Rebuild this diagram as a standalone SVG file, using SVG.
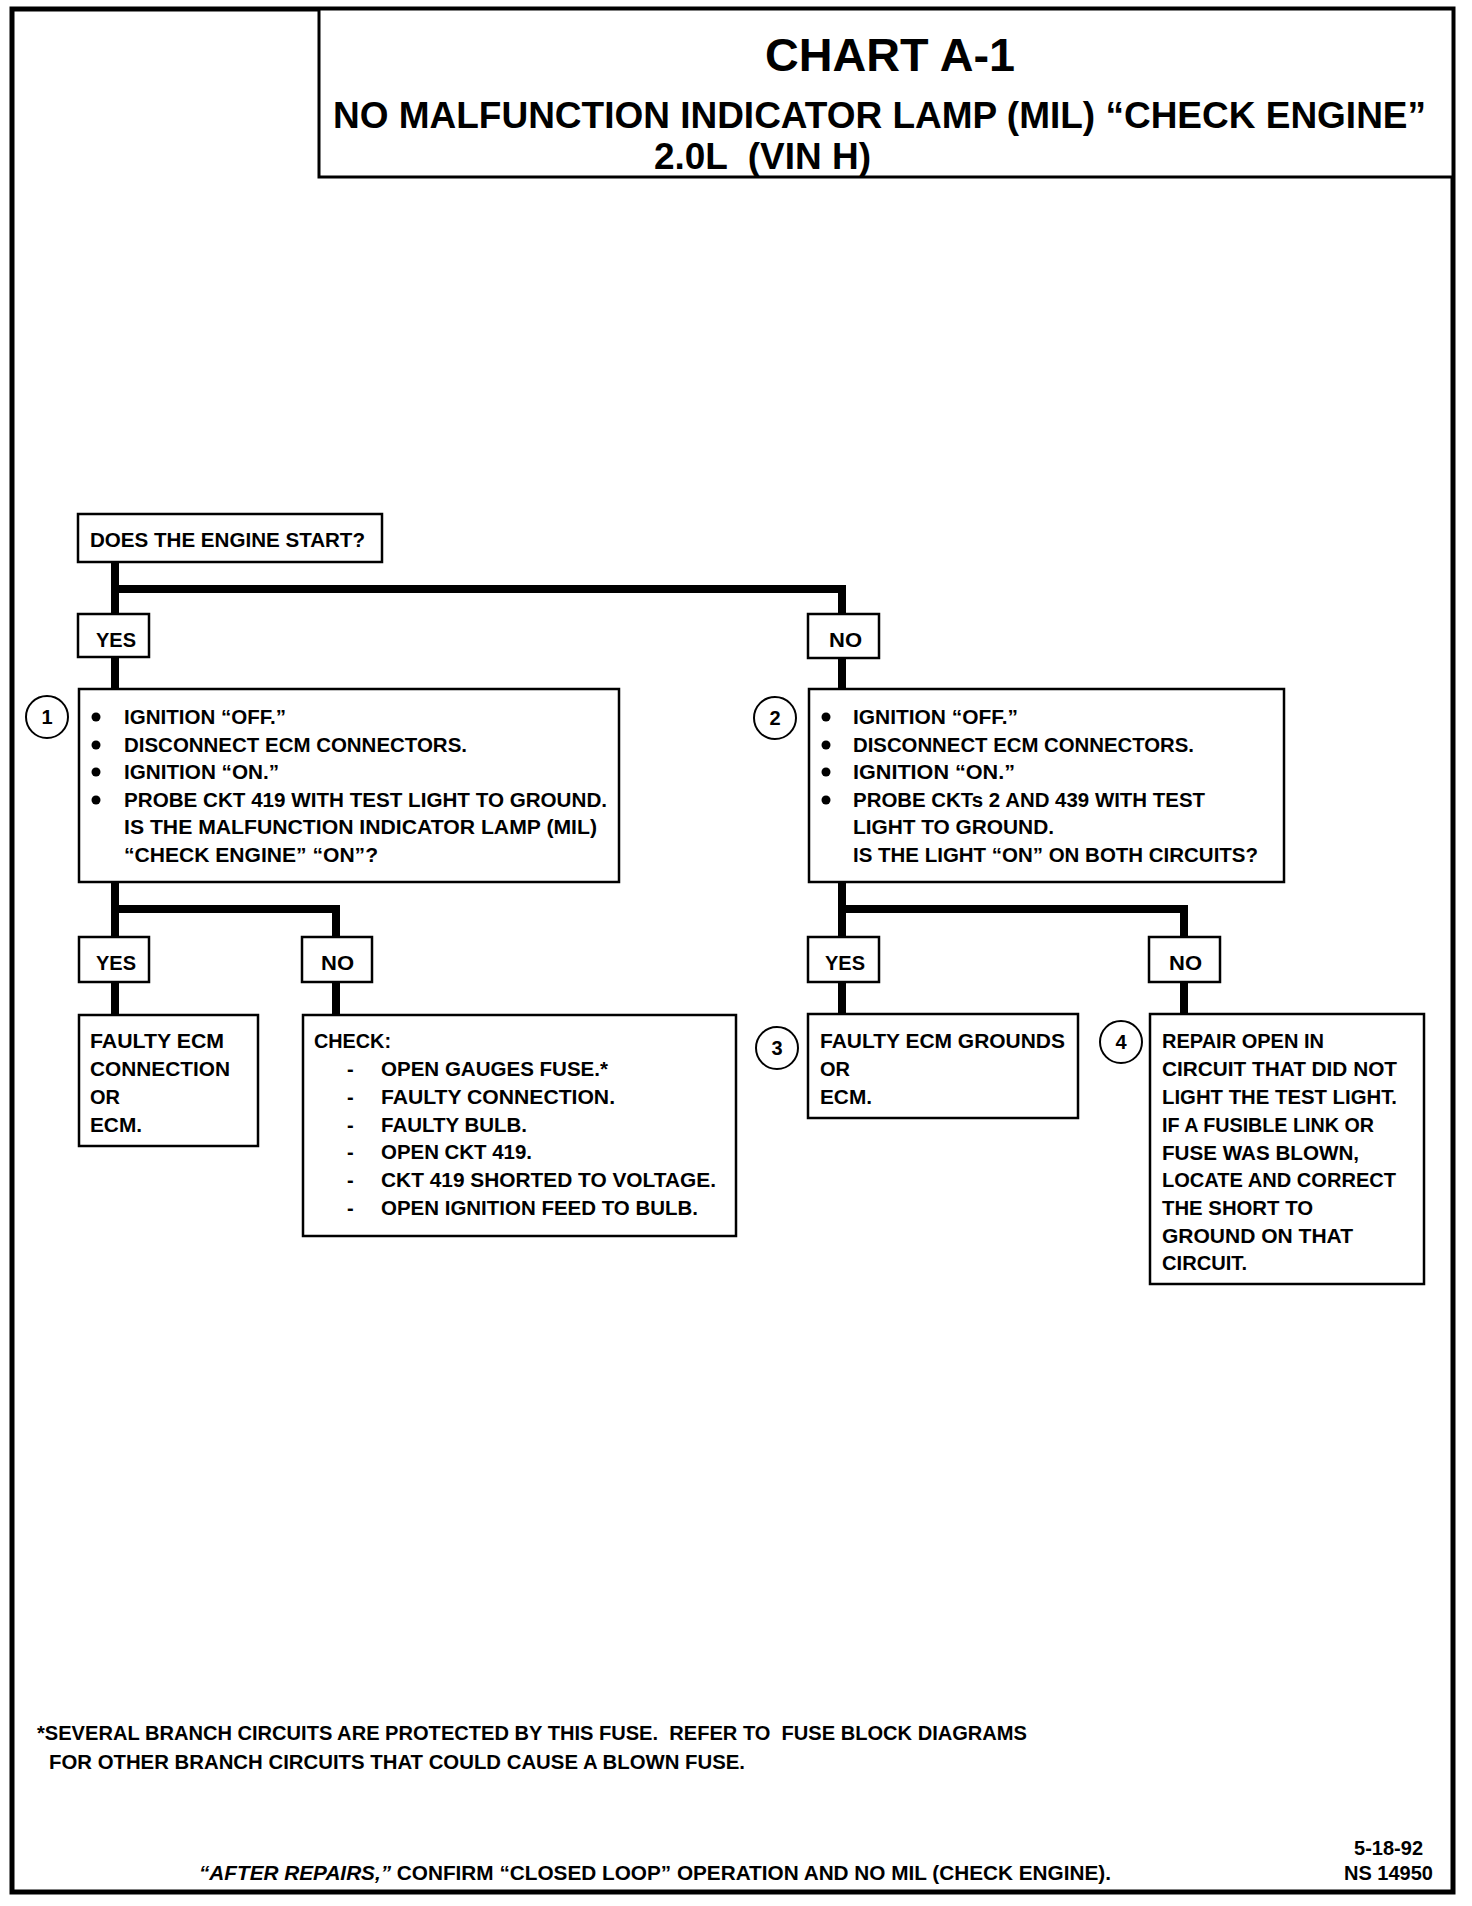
<svg xmlns="http://www.w3.org/2000/svg" width="1472" height="1906" viewBox="0 0 1472 1906">
<style>
.t{font-family:"Liberation Sans",Arial,sans-serif;font-weight:bold;font-size:20px;fill:#000}
.ti{font-family:"Liberation Sans",Arial,sans-serif;font-weight:bold;fill:#000}
.box{fill:#fff;stroke:#000;stroke-width:2.5}
.conn{fill:none;stroke:#000;stroke-width:8;stroke-linejoin:miter;stroke-linecap:butt}
.num{fill:#fff;stroke:#000;stroke-width:2}
.frame{fill:none;stroke:#000;stroke-width:5}
</style>
<defs>
<circle id="bul" r="4.5" fill="#000"/>
</defs>
<rect width="1472" height="1906" fill="#fff"/>
<rect class="frame" x="12" y="9" width="1441" height="1883"/>
<g id="title">
<rect x="319" y="9" width="1134" height="168" fill="#fff" stroke="#000" stroke-width="3"/>
<text class="ti" x="765" y="71" font-size="46" textLength="250" lengthAdjust="spacingAndGlyphs">CHART A-1</text>
<text class="ti" x="333" y="128" font-size="36" textLength="1093" lengthAdjust="spacingAndGlyphs">NO MALFUNCTION INDICATOR LAMP (MIL) “CHECK ENGINE”</text>
<text class="ti" x="654" y="169" font-size="36" textLength="217" lengthAdjust="spacingAndGlyphs" xml:space="preserve">2.0L  (VIN H)</text>
</g>
<g id="connectors">
<path class="conn" d="M115,560 V614"/>
<path class="conn" d="M115,589 H842 V614"/>
<path class="conn" d="M115,657 V689"/>
<path class="conn" d="M842,658 V689"/>
<path class="conn" d="M115,882 V937"/>
<path class="conn" d="M115,909 H336 V937"/>
<path class="conn" d="M842,882 V937"/>
<path class="conn" d="M842,909 H1184 V937"/>
<path class="conn" d="M115,982 V1015"/>
<path class="conn" d="M336,982 V1015"/>
<path class="conn" d="M842,982 V1014"/>
<path class="conn" d="M1184,982 V1014"/>
</g>
<g id="start">
<rect class="box" x="78" y="514" width="304" height="48"/>
<text class="t" x="90" y="547" textLength="275" lengthAdjust="spacingAndGlyphs">DOES THE ENGINE START?</text>
</g>
<g id="yes1">
<rect class="box" x="78" y="614" width="71" height="43"/>
<text class="t" x="96" y="647" textLength="40" lengthAdjust="spacingAndGlyphs">YES</text>
</g>
<g id="no1">
<rect class="box" x="808" y="614" width="71" height="44"/>
<text class="t" x="829" y="647" textLength="33" lengthAdjust="spacingAndGlyphs">NO</text>
</g>
<g id="step1">
<circle class="num" cx="47" cy="717" r="21"/>
<text class="t" x="47" y="724" text-anchor="middle">1</text>
<rect class="box" x="79" y="689" width="540" height="193"/>
<use href="#bul" x="96" y="717"/>
<use href="#bul" x="96" y="745"/>
<use href="#bul" x="96" y="772"/>
<use href="#bul" x="96" y="800"/>
<text class="t" x="124" y="724" textLength="162" lengthAdjust="spacingAndGlyphs">IGNITION “OFF.”</text>
<text class="t" x="124" y="752" textLength="343" lengthAdjust="spacingAndGlyphs">DISCONNECT ECM CONNECTORS.</text>
<text class="t" x="124" y="779" textLength="155" lengthAdjust="spacingAndGlyphs">IGNITION “ON.”</text>
<text class="t" x="124" y="807" textLength="483" lengthAdjust="spacingAndGlyphs">PROBE CKT 419 WITH TEST LIGHT TO GROUND.</text>
<text class="t" x="124" y="834" textLength="473" lengthAdjust="spacingAndGlyphs">IS THE MALFUNCTION INDICATOR LAMP (MIL)</text>
<text class="t" x="124" y="862" textLength="254" lengthAdjust="spacingAndGlyphs">“CHECK ENGINE” “ON”?</text>
</g>
<g id="step2">
<circle class="num" cx="775" cy="718" r="21"/>
<text class="t" x="775" y="725" text-anchor="middle">2</text>
<rect class="box" x="809" y="689" width="475" height="193"/>
<use href="#bul" x="826" y="717"/>
<use href="#bul" x="826" y="745"/>
<use href="#bul" x="826" y="772"/>
<use href="#bul" x="826" y="800"/>
<text class="t" x="853" y="724" textLength="165" lengthAdjust="spacingAndGlyphs">IGNITION “OFF.”</text>
<text class="t" x="853" y="752" textLength="341" lengthAdjust="spacingAndGlyphs">DISCONNECT ECM CONNECTORS.</text>
<text class="t" x="853" y="779" textLength="162" lengthAdjust="spacingAndGlyphs">IGNITION “ON.”</text>
<text class="t" x="853" y="807" textLength="352" lengthAdjust="spacingAndGlyphs">PROBE CKTs 2 AND 439 WITH TEST</text>
<text class="t" x="853" y="834" textLength="201" lengthAdjust="spacingAndGlyphs">LIGHT TO GROUND.</text>
<text class="t" x="853" y="862" textLength="405" lengthAdjust="spacingAndGlyphs">IS THE LIGHT “ON” ON BOTH CIRCUITS?</text>
</g>
<g id="yes2">
<rect class="box" x="79" y="937" width="70" height="45"/>
<text class="t" x="96" y="970" textLength="40" lengthAdjust="spacingAndGlyphs">YES</text>
</g>
<g id="no2">
<rect class="box" x="302" y="937" width="70" height="45"/>
<text class="t" x="321" y="970" textLength="33" lengthAdjust="spacingAndGlyphs">NO</text>
</g>
<g id="yes3">
<rect class="box" x="808" y="937" width="71" height="45"/>
<text class="t" x="825" y="970" textLength="40" lengthAdjust="spacingAndGlyphs">YES</text>
</g>
<g id="no3">
<rect class="box" x="1149" y="937" width="71" height="45"/>
<text class="t" x="1169" y="970" textLength="33" lengthAdjust="spacingAndGlyphs">NO</text>
</g>
<g id="faulty-ecm">
<rect class="box" x="79" y="1015" width="179" height="131"/>
<text class="t" x="90" y="1048" textLength="134" lengthAdjust="spacingAndGlyphs">FAULTY ECM</text>
<text class="t" x="90" y="1076" textLength="140" lengthAdjust="spacingAndGlyphs">CONNECTION</text>
<text class="t" x="90" y="1104" textLength="30" lengthAdjust="spacingAndGlyphs">OR</text>
<text class="t" x="90" y="1132" textLength="52" lengthAdjust="spacingAndGlyphs">ECM.</text>
</g>
<g id="check">
<rect class="box" x="303" y="1015" width="433" height="221"/>
<text class="t" x="314" y="1048" textLength="77" lengthAdjust="spacingAndGlyphs">CHECK:</text>
<text class="t" x="347" y="1076">-</text>
<text class="t" x="347" y="1104">-</text>
<text class="t" x="347" y="1132">-</text>
<text class="t" x="347" y="1159">-</text>
<text class="t" x="347" y="1187">-</text>
<text class="t" x="347" y="1215">-</text>
<text class="t" x="381" y="1076" textLength="227" lengthAdjust="spacingAndGlyphs">OPEN GAUGES FUSE.*</text>
<text class="t" x="381" y="1104" textLength="234" lengthAdjust="spacingAndGlyphs">FAULTY CONNECTION.</text>
<text class="t" x="381" y="1132" textLength="146" lengthAdjust="spacingAndGlyphs">FAULTY BULB.</text>
<text class="t" x="381" y="1159" textLength="151" lengthAdjust="spacingAndGlyphs">OPEN CKT 419.</text>
<text class="t" x="381" y="1187" textLength="335" lengthAdjust="spacingAndGlyphs">CKT 419 SHORTED TO VOLTAGE.</text>
<text class="t" x="381" y="1215" textLength="317" lengthAdjust="spacingAndGlyphs">OPEN IGNITION FEED TO BULB.</text>
</g>
<g id="step3">
<circle class="num" cx="777" cy="1048" r="21"/>
<text class="t" x="777" y="1055" text-anchor="middle">3</text>
<rect class="box" x="808" y="1014" width="270" height="104"/>
<text class="t" x="820" y="1048" textLength="245" lengthAdjust="spacingAndGlyphs">FAULTY ECM GROUNDS</text>
<text class="t" x="820" y="1076" textLength="30" lengthAdjust="spacingAndGlyphs">OR</text>
<text class="t" x="820" y="1104" textLength="52" lengthAdjust="spacingAndGlyphs">ECM.</text>
</g>
<g id="step4">
<circle class="num" cx="1121" cy="1042" r="21"/>
<text class="t" x="1121" y="1049" text-anchor="middle">4</text>
<rect class="box" x="1150" y="1014" width="274" height="270"/>
<text class="t" x="1162" y="1048" textLength="162" lengthAdjust="spacingAndGlyphs">REPAIR OPEN IN</text>
<text class="t" x="1162" y="1076" textLength="235" lengthAdjust="spacingAndGlyphs">CIRCUIT THAT DID NOT</text>
<text class="t" x="1162" y="1104" textLength="235" lengthAdjust="spacingAndGlyphs">LIGHT THE TEST LIGHT.</text>
<text class="t" x="1162" y="1132" textLength="212" lengthAdjust="spacingAndGlyphs">IF A FUSIBLE LINK OR</text>
<text class="t" x="1162" y="1160" textLength="197" lengthAdjust="spacingAndGlyphs">FUSE WAS BLOWN,</text>
<text class="t" x="1162" y="1187" textLength="234" lengthAdjust="spacingAndGlyphs">LOCATE AND CORRECT</text>
<text class="t" x="1162" y="1215" textLength="151" lengthAdjust="spacingAndGlyphs">THE SHORT TO</text>
<text class="t" x="1162" y="1243" textLength="191" lengthAdjust="spacingAndGlyphs">GROUND ON THAT</text>
<text class="t" x="1162" y="1270" textLength="85" lengthAdjust="spacingAndGlyphs">CIRCUIT.</text>
</g>
<g id="notes">
<text class="t" x="37" y="1740" font-size="19" textLength="990" lengthAdjust="spacingAndGlyphs" xml:space="preserve">*SEVERAL BRANCH CIRCUITS ARE PROTECTED BY THIS FUSE.  REFER TO  FUSE BLOCK DIAGRAMS</text>
<text class="t" x="49" y="1769" font-size="19" textLength="696" lengthAdjust="spacingAndGlyphs">FOR OTHER BRANCH CIRCUITS THAT COULD CAUSE A BLOWN FUSE.</text>
<text class="t" x="199" y="1880" font-size="19" textLength="912" lengthAdjust="spacingAndGlyphs"><tspan font-style="italic">“AFTER REPAIRS,”</tspan> CONFIRM “CLOSED LOOP” OPERATION AND NO MIL (CHECK ENGINE).</text>
<text class="t" x="1423" y="1855" font-size="20" text-anchor="end">5-18-92</text>
<text class="t" x="1433" y="1880" font-size="20" text-anchor="end">NS 14950</text>
</g>
</svg>
